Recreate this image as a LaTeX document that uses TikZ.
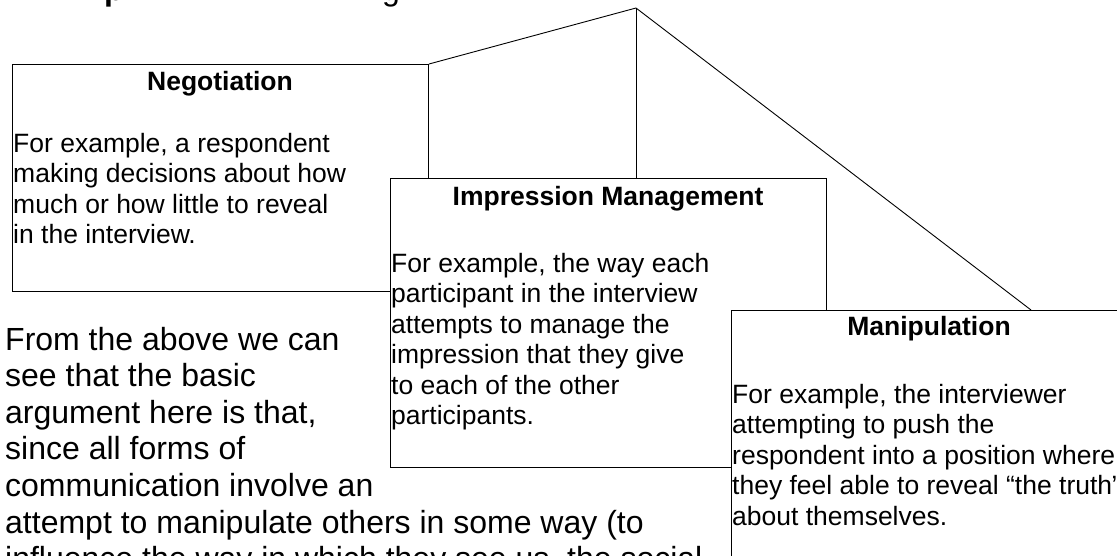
\documentclass[tikz,border=0pt]{standalone}
\usepackage{fontspec}
\setmainfont{Liberation Sans}
\newcommand{\boxlines}[1]{\parbox[t]{420pt}{\raggedright #1}}
\begin{document}
\begin{tikzpicture}[x=1pt,y=-1pt,
  panel/.style={draw=black, line width=1pt, fill=white, anchor=north west,
    inner sep=0pt, minimum width=#1},
  link/.style={draw=black, line width=0.9pt},
  heading/.style={inner sep=0pt, anchor=base,
    font=\fontsize{26.5}{30.5}\selectfont\bfseries},
  bodytext/.style={inner sep=0pt, anchor=base west,
    font=\fontsize{26.5}{30.5}\selectfont},
  prose/.style={inner sep=0pt, anchor=base west,
    font=\fontsize{32}{36.6}\selectfont}]
\useasboundingbox (0,0) rectangle (1117,555);
\clip (0,0) rectangle (1117,555);
\fill[white] (0,0) rectangle (1117,555);

% tail of the heading line above
\node[inner sep=0pt, anchor=base west, font=\fontsize{32}{36}\selectfont\bfseries] (headp) at (104,0) {p};
\node[inner sep=0pt, anchor=base west, font=\fontsize{32}{36}\selectfont] (headg) at (382,0) {g};

\coordinate (apex) at (636,8);
\coordinate (mtop) at (1031,0);

% the three panels
\node[panel=416pt, minimum height=227pt] (neg) at (12,64) {};
\draw[link] (apex) -- (neg.north east);

\node[panel=436pt, minimum height=289pt] (imp) at (390,178) {};
\draw[link] (apex) -- (apex |- imp.north);

\node[panel=396pt, minimum height=300pt] (man) at (731,310) {};
\draw[link] (apex) -- (man.north -| mtop);

% panel texts
\node[heading] (negtitle) at (220,90) {Negotiation};
\node[bodytext] (negbody) at (13,152) {\boxlines{For example, a respondent\\
  making decisions about how\\much or how little to reveal\\in the interview.}};

\node[heading] (imptitle) at (608,205) {Impression Management};
\node[bodytext] (impbody) at (391,272) {\boxlines{For example, the way each\\
  participant in the interview\\attempts to manage the\\impression that they give\\
  to each of the other\\participants.}};

\node[heading] (mantitle) at (929,335) {Manipulation};
\node[bodytext] (manbody) at (732,403) {\boxlines{For example, the interviewer\\
  attempting to push the\\respondent into a position where\\
  they feel able to reveal “the truth”\\about themselves.}};

% running text below the diagram
\node[prose] (para) at (5,350) {\parbox[t]{760pt}{\raggedright
  From the above we can\\see that the basic\\argument here is that,\\
  since all forms of\\communication involve an\\
  attempt to manipulate others in some way (to\\
  influence the way in which they see us, the social}};
\end{tikzpicture}
\end{document}
